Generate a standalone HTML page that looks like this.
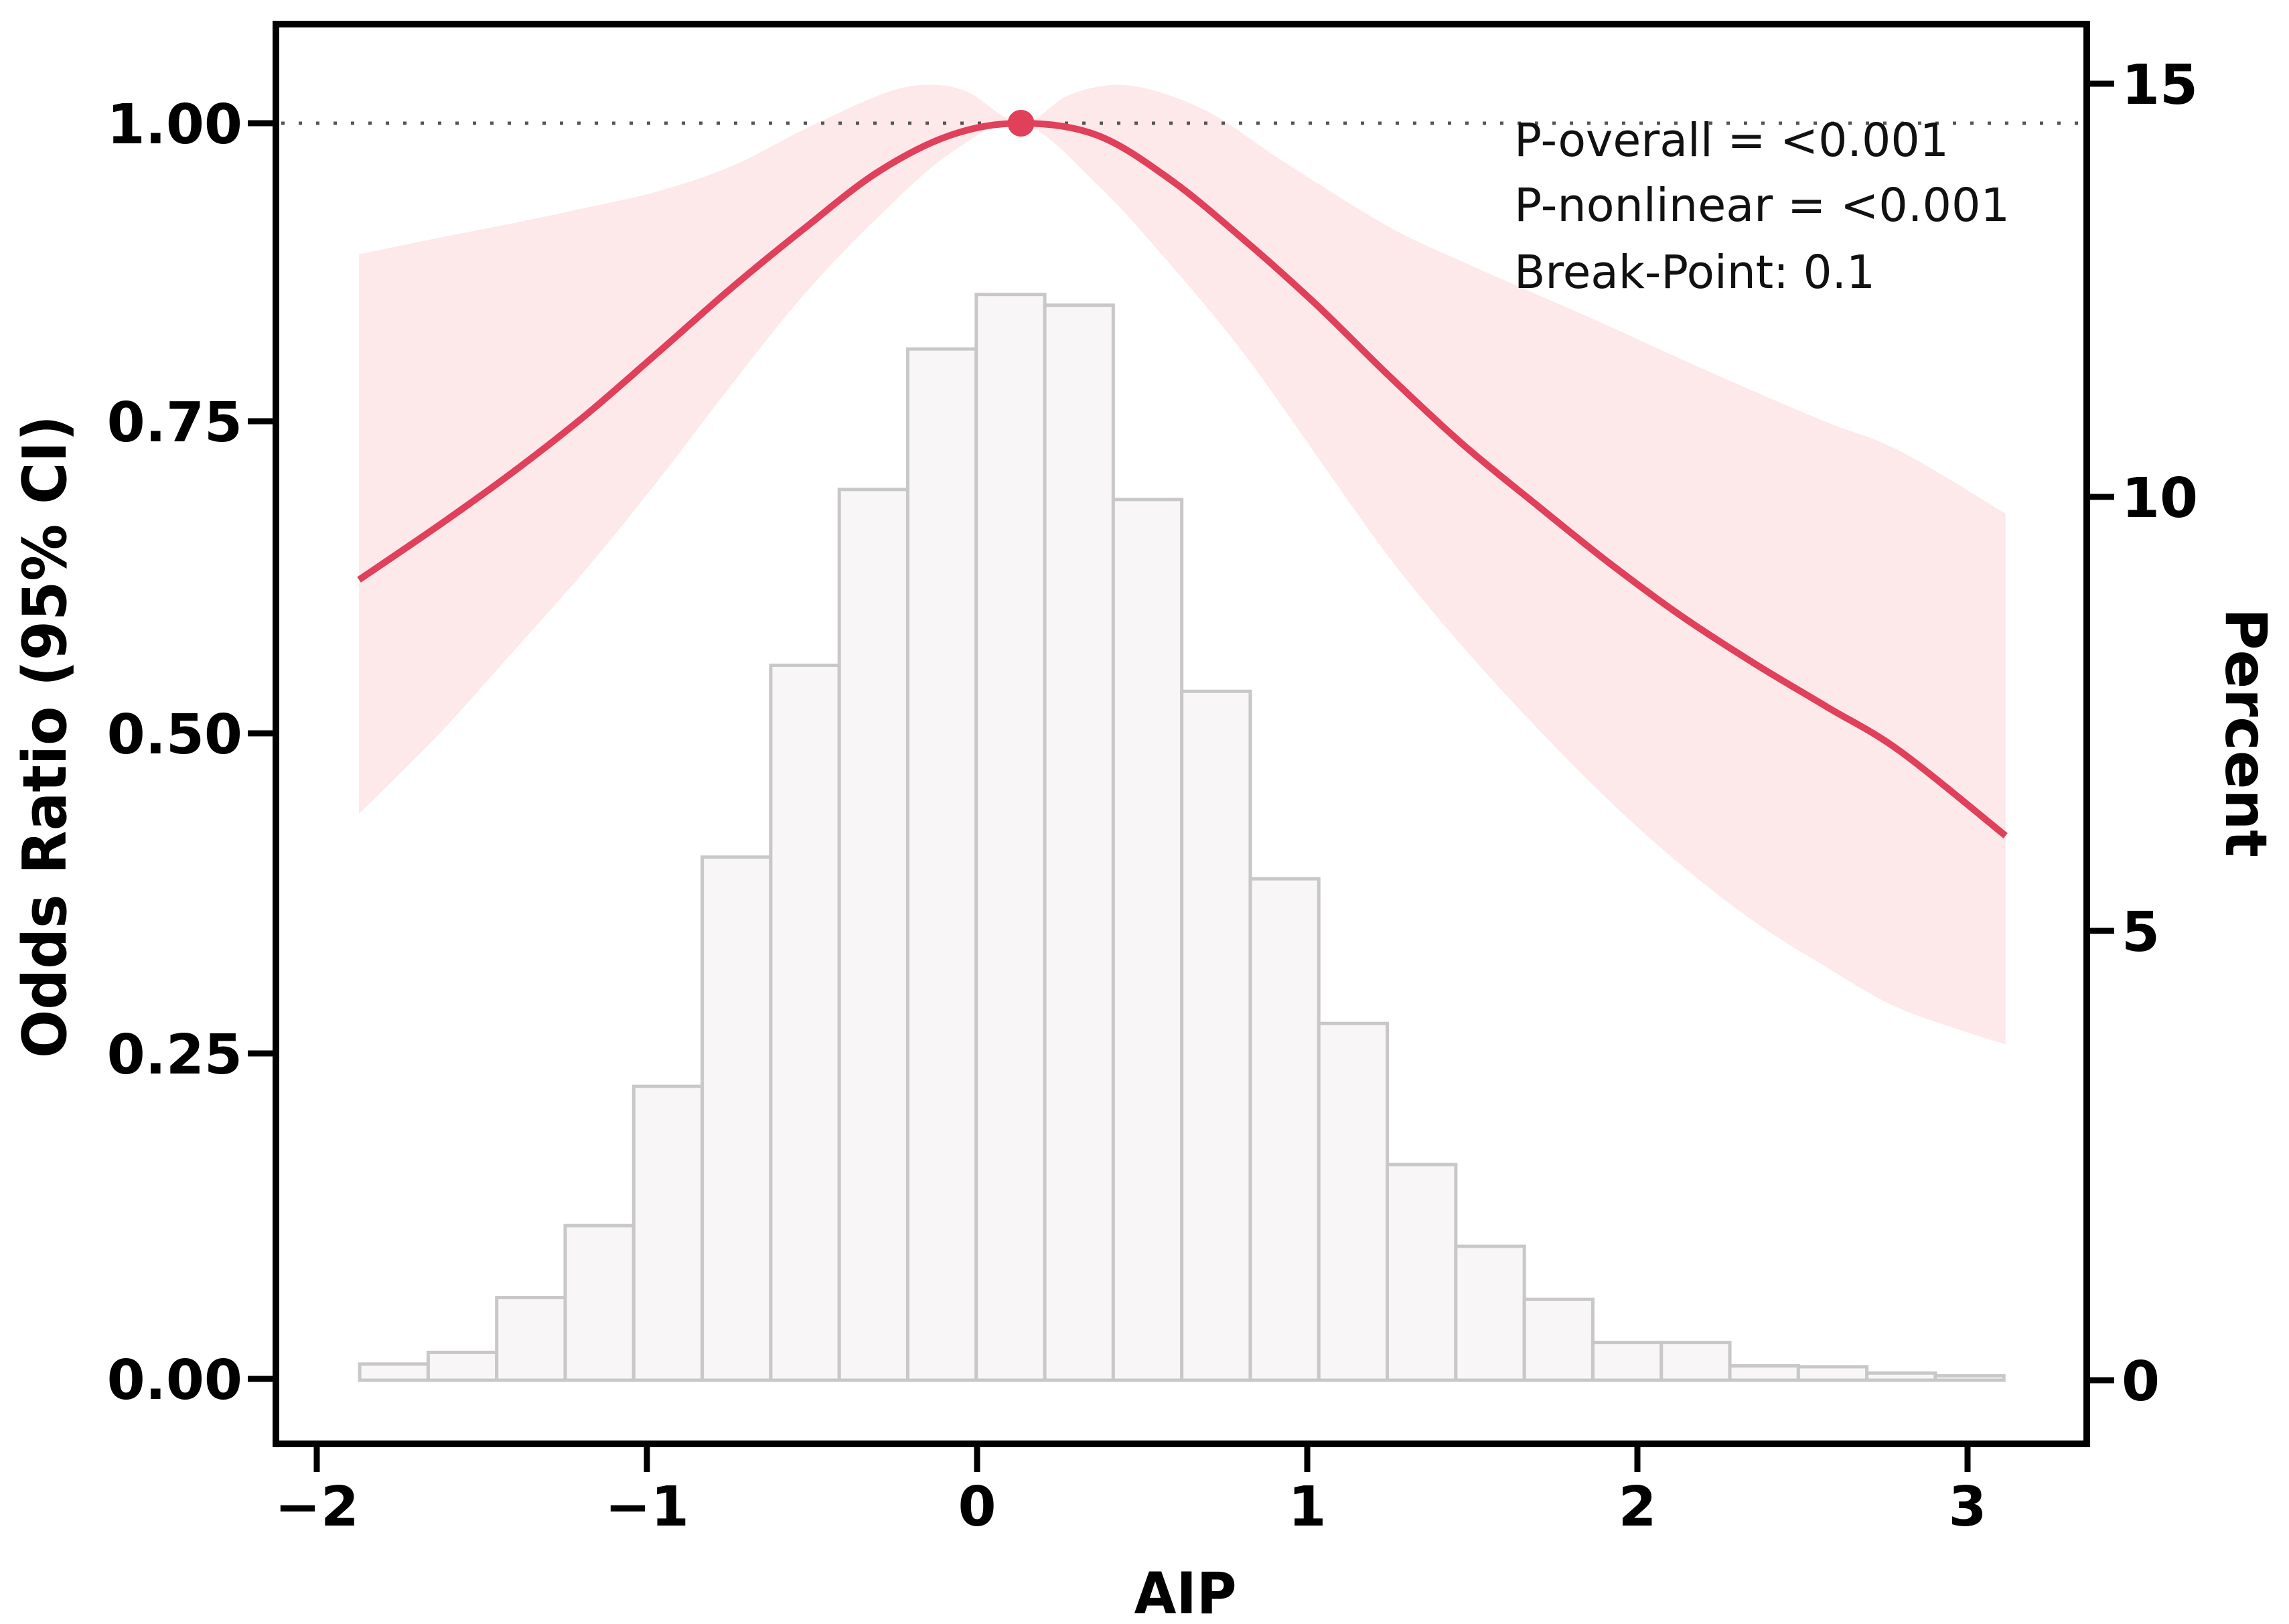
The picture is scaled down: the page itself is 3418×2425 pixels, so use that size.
<!DOCTYPE html>
<html><head><meta charset="utf-8"><style>
html,body{margin:0;padding:0;background:#fff;}
svg{display:block;}
text{font-family:"DejaVu Sans","Liberation Sans",sans-serif;}
</style></head>
<body>
<svg id="chart" width="3418" height="2425" viewBox="0 0 3418 2425" xmlns="http://www.w3.org/2000/svg">
<rect x="0" y="0" width="3418" height="2425" fill="#fff"/>
<g id="hist"></g>
<g id="band"></g>
<line x1="420" y1="184" x2="3112" y2="184" stroke="#555" stroke-width="5" stroke-dasharray="5,21"/>
<g id="curve"></g>
<g id="axes"></g>
<g font-size="69" fill="#111">
<text x="2261" y="233" textLength="649" lengthAdjust="spacingAndGlyphs">P-overall = &lt;0.001</text>
<text x="2261" y="330" textLength="740" lengthAdjust="spacingAndGlyphs">P-nonlinear = &lt;0.001</text>
<text x="2261" y="430" textLength="539" lengthAdjust="spacingAndGlyphs">Break-Point: 0.1</text>
</g>
<text x="1770" y="2409" text-anchor="middle" font-size="86" font-weight="bold" textLength="153" lengthAdjust="spacingAndGlyphs">AIP</text>
<text transform="translate(98,1100) rotate(-90)" text-anchor="middle" font-size="90" font-weight="bold" textLength="960" lengthAdjust="spacingAndGlyphs">Odds Ratio (95% CI)</text>
<text transform="translate(3324,1094) rotate(90)" text-anchor="middle" font-size="86" font-weight="bold" textLength="372" lengthAdjust="spacingAndGlyphs">Percent</text>
</svg>
<script>
const binStart = -1.87;
const binWidth = 0.2075;
const percents = [0.18,0.31,0.92,1.72,3.27,5.85,8.06,10.09,11.79,12.45,12.32,9.97,7.76,5.6,3.97,2.4,1.49,0.9,0.42,0.42,0.16,0.15,0.08,0.05];
const curveX = [-1.872,-1.628,-1.407,-1.186,-0.965,-0.743,-0.522,-0.301,-0.080,0.133,0.363,0.584,0.805,1.027,1.248,1.469,1.690,1.912,2.133,2.354,2.575,2.796,3.115];
const curveOR = [0.623,0.667,0.709,0.755,0.808,0.862,0.912,0.959,0.99,1.0,0.99,0.953,0.903,0.848,0.788,0.732,0.684,0.637,0.594,0.556,0.521,0.486,0.42];
const lowerOR = [0.437,0.5,0.565,0.631,0.703,0.781,0.857,0.921,0.975,1.0,0.949,0.882,0.808,0.723,0.641,0.570,0.506,0.448,0.397,0.353,0.317,0.285,0.257];
const upperX = [-1.872,-1.628,-1.407,-1.186,-0.965,-0.743,-0.522,-0.301,-0.168,-0.035,0.133,0.274,0.407,0.540,0.717,0.938,1.248,1.469,1.690,1.912,2.133,2.354,2.575,2.796,3.115];
const upperOR = [0.890,0.904,0.916,0.929,0.943,0.964,0.995,1.023,1.032,1.027,1.0,1.023,1.032,1.027,1.007,0.966,0.913,0.884,0.857,0.830,0.802,0.775,0.749,0.726,0.676];
const breakX = 0.133, breakOR = 1.0;
const xTicks = [-2,-1,0,1,2,3];
const xTickLabels = ["\u22122","\u22121","0","1","2","3"];
const yTicks = [0,0.25,0.5,0.75,1.0];
const yTickLabels = ["0.00","0.25","0.50","0.75","1.00"];
const y2Ticks = [0,5,10,15];
const y2TickLabels = ["0","5","10","15"];

const NS="http://www.w3.org/2000/svg";
function mk(tag, attrs, parent){const e=document.createElementNS(NS,tag);for(const k in attrs)e.setAttribute(k,attrs[k]);parent.appendChild(e);return e;}
const xs = v => 1459 + v*493;
const orPx = [2059,1573,1095,629,184];
function pw(v, ticks, px){
  let i=0; while(i<ticks.length-2 && v>ticks[i+1]) i++;
  if(v<ticks[0]) i=0;
  return px[i] + (v-ticks[i])/(ticks[i+1]-ticks[i])*(px[i+1]-px[i]);
}
const ys = v => pw(v, yTicks, orPx);
const y2s = v => pw(v, y2Ticks, [2061,1390,742,125]);
function smooth(pts, start){
  let d = (start?'M':'L') + pts[0][0] + ',' + pts[0][1];
  for(let i=0;i<pts.length-1;i++){
    const p0=pts[Math.max(0,i-1)], p1=pts[i], p2=pts[i+1], p3=pts[Math.min(pts.length-1,i+2)];
    const c1x=p1[0]+(p2[0]-p0[0])/6, c1y=p1[1]+(p2[1]-p0[1])/6;
    const c2x=p2[0]-(p3[0]-p1[0])/6, c2y=p2[1]-(p3[1]-p1[1])/6;
    d+='C'+c1x+','+c1y+' '+c2x+','+c2y+' '+p2[0]+','+p2[1];
  }
  return d;
}

const hist=document.getElementById('hist');
percents.forEach((p,i)=>{
  const x0=xs(binStart+i*binWidth), x1=xs(binStart+(i+1)*binWidth);
  const r=mk('rect',{x:x0,y:y2s(p),width:x1-x0,height:y2s(0)-y2s(p),fill:'#f8f6f7',stroke:'#c8c8c8','stroke-width':5},hist);
  
  
});

const band=document.getElementById('band');
const upPts = upperX.map((x,i)=>[xs(x),ys(upperOR[i])]);
const loPts = curveX.map((x,i)=>[xs(x),ys(lowerOR[i])]).reverse();
const bd = smooth(upPts,true) + smooth(loPts,false) + 'Z';
const bp=mk('path',{d:bd,fill:'#fde8ea',stroke:'none'},band);



const curve=document.getElementById('curve');
const cPts = curveX.map((x,i)=>[xs(x),ys(curveOR[i])]);
const cp=mk('path',{d:smooth(cPts,true),fill:'none',stroke:'#e0405a','stroke-width':10,'stroke-linejoin':'round'},curve);


const pt=mk('circle',{cx:xs(breakX),cy:ys(breakOR),r:20,fill:'#e0405a'},curve);



const ax=document.getElementById('axes');
const fr=mk('rect',{x:412,y:36,width:2704,height:2120,fill:'none',stroke:'#000','stroke-width':10},ax);


xTicks.forEach((t,i)=>{
  const l=mk('line',{x1:xs(t),x2:xs(t),y1:2156,y2:2198,stroke:'#000','stroke-width':9},ax);
  
  
  const tx=mk('text',{x:xs(t),y:2278,'text-anchor':'middle','font-size':82,'font-weight':'bold'},ax);
  tx.textContent=xTickLabels[i];
  
  
});
yTicks.forEach((t,i)=>{
  const l=mk('line',{x1:370,x2:412,y1:ys(t),y2:ys(t),stroke:'#000','stroke-width':9},ax);
  
  
  const tx=mk('text',{x:362,y:ys(t)+30,'text-anchor':'end','font-size':82,'font-weight':'bold'},ax);
  tx.textContent=yTickLabels[i];
  
  
});
y2Ticks.forEach((t,i)=>{
  const l=mk('line',{x1:3116,x2:3157,y1:y2s(t),y2:y2s(t),stroke:'#000','stroke-width':9},ax);
  
  
  const tx=mk('text',{x:3168,y:y2s(t)+30,'text-anchor':'start','font-size':82,'font-weight':'bold'},ax);
  tx.textContent=y2TickLabels[i];
  
  
});
</script>
</body></html>
